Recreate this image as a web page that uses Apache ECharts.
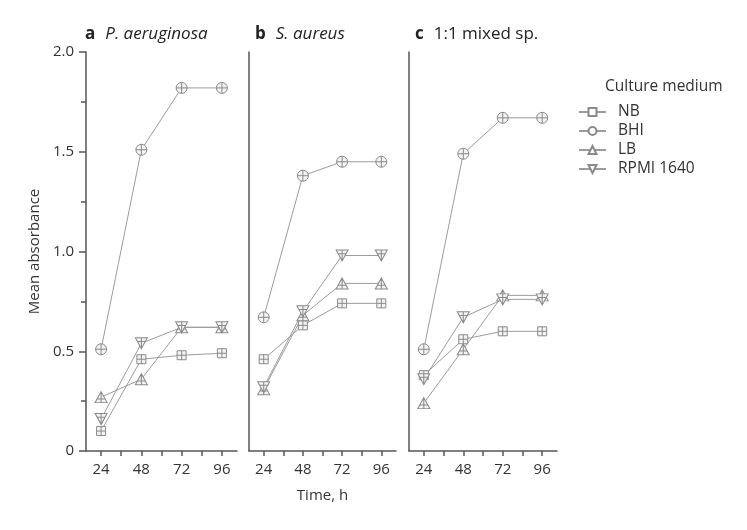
<!DOCTYPE html>
<html><head><meta charset="utf-8">
<script src="https://cdn.jsdelivr.net/npm/echarts@6/dist/echarts.min.js"></script>
<style>html,body{margin:0;padding:0;background:#fff}#c{width:747px;height:530px}</style>
</head><body><div id="c"></div>
<script>
var times = [24, 48, 72, 96];
var media = ['NB', 'BHI', 'LB', 'RPMI 1640'];
var panelLetters = ['a', 'b', 'c'];
var panelNames = ['P. aeruginosa', 'S. aureus', '1:1 mixed sp.'];
var yTicks = [0, 0.5, 1.0, 1.5, 2.0];
var xLabels = [24, 48, 72, 96];
var xTicks = [24, 36, 48, 60, 72, 84, 96];

var paNB   = [0.10, 0.46, 0.48, 0.49];
var paBHI  = [0.51, 1.51, 1.82, 1.82];
var paLB   = [0.27, 0.36, 0.62, 0.62];
var paRPMI = [0.16, 0.54, 0.62, 0.62];

var saNB   = [0.46, 0.63, 0.74, 0.74];
var saBHI  = [0.67, 1.38, 1.45, 1.45];
var saLB   = [0.31, 0.68, 0.84, 0.84];
var saRPMI = [0.32, 0.70, 0.98, 0.98];

var mxNB   = [0.38, 0.56, 0.60, 0.60];
var mxBHI  = [0.51, 1.49, 1.67, 1.67];
var mxLB   = [0.24, 0.51, 0.78, 0.78];
var mxRPMI = [0.36, 0.67, 0.76, 0.76];

var panelData = [
  [paNB, paBHI, paLB, paRPMI],
  [saNB, saBHI, saLB, saRPMI],
  [mxNB, mxBHI, mxLB, mxRPMI]
];

var FONT = 'Open Sans';
var AX = '#555';
var LINE = '#9c9c9c';
var MK = '#8a8a8a';
var TXT = '#333';

var crossSymbols = [
  'path://M0,0 H10 V10 H0 Z M5,0 V10 M0,5 H10',
  'path://M10,5 A5,5 0 1 1 0,5 A5,5 0 1 1 10,5 Z M5,0 V10 M0,5 H10',
  'path://M5,0 L10,9 L0,9 Z M5,0 V9 M1.6,6 H8.4',
  'path://M0,0 L10,0 L5,9 Z M5,0 V9 M1.6,3 H8.4'
];
var plainSymbols = [
  'rect',
  'circle',
  'triangle',
  'path://M0,0 L10,0 L5,9 Z'
];
var symSizes = [[9, 9], [11, 11], [12, 11], [12, 11]];

var grids = [
  {left: 86, top: 52, width: 151, height: 399},
  {left: 249, top: 52, width: 147, height: 399},
  {left: 409, top: 52, width: 148, height: 399}
];

var xAxes = [], yAxes = [], series = [];
grids.forEach(function (g, i) {
  xAxes.push({
    type: 'value', gridIndex: i, min: 15, max: 105, position: 'bottom',
    axisLine: {show: true, lineStyle: {color: AX, width: 1.5}},
    axisTick: {show: true, customValues: xTicks, length: 5, lineStyle: {color: AX, width: 1.5}},
    axisLabel: {show: true, customValues: xLabels, margin: 11, color: TXT, fontFamily: FONT, fontSize: 15},
    splitLine: {show: false},
    name: i === 1 ? 'Time, h' : '', nameLocation: 'middle', nameGap: 37,
    nameTextStyle: {color: TXT, fontFamily: FONT, fontSize: 15}
  });
  yAxes.push({
    type: 'value', gridIndex: i, min: 0, max: 2, interval: 0.5,
    axisLine: {show: true, lineStyle: {color: AX, width: 1.5}},
    axisTick: {show: i === 0, length: 7, lineStyle: {color: AX, width: 1.5}},
    minorTick: {show: i === 0, splitNumber: 2, length: 5, lineStyle: {color: AX, width: 1.5}},
    axisLabel: {show: i === 0, margin: 12, color: TXT, fontFamily: FONT, fontSize: 15,
      formatter: function (v) { return v === 0 ? '0' : v.toFixed(1); }},
    splitLine: {show: false},
    name: i === 0 ? 'Mean absorbance' : '', nameLocation: 'middle', nameGap: 44,
    nameTextStyle: {color: TXT, fontFamily: FONT, fontSize: 15}
  });
});

// legend dummy series (plain symbols)
media.forEach(function (m, k) {
  series.push({
    name: m, type: 'line', xAxisIndex: 0, yAxisIndex: 0, data: [],
    symbol: plainSymbols[k], symbolSize: symSizes[k],
    lineStyle: {color: LINE, width: 1},
    itemStyle: {color: '#fff', borderColor: MK, borderWidth: 1}
  });
});

panelData.forEach(function (arrs, i) {
  arrs.forEach(function (vals, k) {
    series.push({
      name: media[k], type: 'line', xAxisIndex: i, yAxisIndex: i,
      data: times.map(function (t, j) { return [t, vals[j]]; }),
      symbol: crossSymbols[k], symbolSize: symSizes[k],
      showAllSymbol: true,
      lineStyle: {color: LINE, width: 1},
      itemStyle: {color: '#f3f3f3', borderColor: MK, borderWidth: 1},
      emphasis: {disabled: true},
      animation: false
    });
  });
});

var titles = grids.map(function (g, i) {
  return {
    text: '{b|' + panelLetters[i] + '}  {' + (i < 2 ? 'i' : 'n') + '|' + panelNames[i] + '}',
    left: [80, 250, 410][i], top: 20,
    textStyle: {
      fontWeight: 'normal',
      rich: {
        b: {fontFamily: FONT, fontWeight: 'bold', fontSize: 17, color: '#222'},
        i: {fontFamily: FONT, fontStyle: 'italic', fontWeight: 'normal', fontSize: 17, color: '#222'},
        n: {fontFamily: FONT, fontWeight: 'normal', fontSize: 17, color: '#222'}
      }
    }
  };
});
titles.push({
  text: 'Culture medium', left: 600, top: 74,
  textStyle: {fontFamily: FONT, fontSize: 15.5, fontWeight: 'normal', color: TXT}
});

var chart = echarts.init(document.getElementById('c'), null, {renderer: 'canvas'});
chart.setOption({
  animation: false,
  backgroundColor: '#fff',
  title: titles,
  legend: {
    data: media, orient: 'vertical', left: 573, top: 99,
    itemWidth: 27, itemHeight: 10, itemGap: 3,
    textStyle: {fontFamily: FONT, fontSize: 15.5, color: TXT, padding: [0, 0, 0, 7]},
    selectedMode: false
  },
  grid: grids,
  xAxis: xAxes,
  yAxis: yAxes,
  series: series
});
</script></body></html>
